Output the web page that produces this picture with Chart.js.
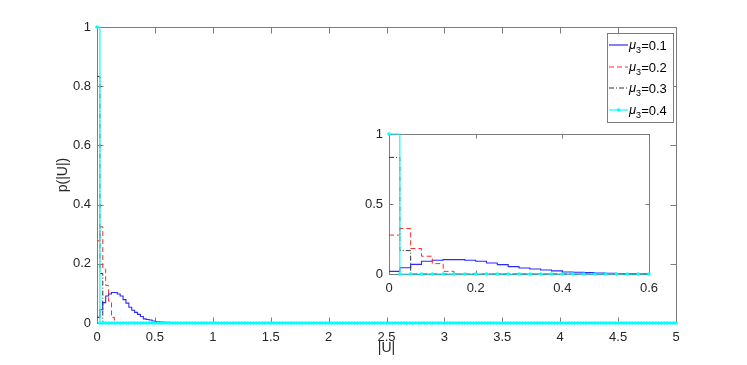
<!DOCTYPE html>
<html><head><meta charset="utf-8">
<script src="https://cdn.jsdelivr.net/npm/chart.js@4"></script>
<style>
html,body{margin:0;padding:0;background:#fff;}
#wrap{position:relative;width:747px;height:365px;overflow:hidden;}
#wrap canvas{position:absolute;left:0;top:0;}
</style></head><body>
<div id="wrap"><canvas id="main" width="747" height="365"></canvas><canvas id="inset" width="747" height="365"></canvas></div>
<script>
// ---- data (histogram bins of width 0.025, stairs start at bin left edge) ----
const binWidth = 0.025;
const mainXMax = 5;
const insetXMax = 0.6;
const mu01 = [0.019,0.045,0.069,0.091,0.098,0.103,0.103,0.098,0.091,0.079,0.067,0.053,0.043,0.036,0.029,0.022,0.014,0.012,0.010,0.007,0.005,0.004,0.003,0.002,0.002,0.001];
const mu02 = [0.278,0.325,0.182,0.127,0.074,0.019];
const mu03 = [0.833,0.167];
const mu04 = [1.0];
const seriesNames = ['0.1','0.2','0.3','0.4'];
const mainXTicks = [0,0.5,1,1.5,2,2.5,3,3.5,4,4.5,5];
const mainYTicks = [0,0.2,0.4,0.6,0.8,1];
const insetXTicks = [0,0.2,0.4,0.6];
const insetYTicks = [0,0.5,1];

const FONT = '"Liberation Sans", Arial, Helvetica, sans-serif';
const TXT = '#262626';
const FRAME = '#7d7d7d';

const styles = [
  {color:'#2a2aff', dash:[], width:1.1, marker:false},
  {color:'#ff2a2a', dash:[5,3], width:1, marker:false},
  {color:'#333333', dash:[5,2,1,2], width:1, marker:false},
  {color:'#00ffff', dash:[], width:1.2, marker:true}
];
const allSeries = [mu01, mu02, mu03, mu04];

function edgesUpTo(xmax){
  const n = Math.round(xmax / binWidth);
  const e = [];
  for (let i = 0; i <= n; i++) e.push(+(i * binWidth).toFixed(4));
  return e;
}
function points(vals, xmax){
  return edgesUpTo(xmax).map((x, i) => ({x: x, y: i < vals.length ? vals[i] : 0}));
}
function datasets(xmax){
  return allSeries.map((vals, k) => ({
    label: 'mu3=' + seriesNames[k],
    data: points(vals, xmax),
    stepped: 'before',
    borderColor: styles[k].color,
    borderDash: styles[k].dash,
    borderWidth: styles[k].width,
    pointRadius: styles[k].marker ? 1.8 : 0,
    pointBackgroundColor: styles[k].color,
    pointBorderColor: styles[k].color,
    pointBorderWidth: 0,
    fill: false,
    clip: false,
    order: 3 - k
  }));
}
const fmt = v => String(+(+v).toFixed(2));

const framePlugin = {
  id: 'frame',
  beforeDatasetsDraw(chart, args, o){
    const {ctx, chartArea: a, scales} = chart;
    ctx.save();
    if (o.bg){ ctx.fillStyle = '#fff'; ctx.fillRect(a.left, a.top, a.right - a.left, a.bottom - a.top); }
    ctx.strokeStyle = FRAME; ctx.lineWidth = 1;
    const L = Math.round(a.left) + 0.5, R = Math.round(a.right) + 0.5, T = Math.round(a.top) + 0.5, B = Math.round(a.bottom) + 0.5;
    ctx.strokeRect(L, T, R - L, B - T);
    const tl = o.tickLen;
    ctx.beginPath();
    scales.x.ticks.forEach(t => {
      const px = Math.round(scales.x.getPixelForValue(t.value)) + 0.5;
      ctx.moveTo(px, B); ctx.lineTo(px, B - tl);
      ctx.moveTo(px, T); ctx.lineTo(px, T + tl);
    });
    scales.y.ticks.forEach(t => {
      const py = Math.round(scales.y.getPixelForValue(t.value)) + 0.5;
      ctx.moveTo(L, py); ctx.lineTo(L + tl, py);
      ctx.moveTo(R, py); ctx.lineTo(R - tl, py);
    });
    ctx.stroke();
    ctx.restore();
  },
  afterDraw(chart, args, o){
    if (!o.legend) return;
    const ctx = chart.ctx;
    ctx.save();
    const x0 = 607, y0 = 33, w = 66, h = 89;
    ctx.fillStyle = '#fff'; ctx.fillRect(x0, y0, w, h);
    ctx.strokeStyle = FRAME; ctx.lineWidth = 1;
    ctx.strokeRect(x0 + 0.5, y0 + 0.5, w, h);
    for (let i = 0; i < 4; i++){
      const cy = Math.round(45 + i * 21.5);
      const s = styles[i];
      ctx.strokeStyle = s.color; ctx.lineWidth = 1.2; ctx.setLineDash(s.dash);
      ctx.beginPath(); ctx.moveTo(609, cy); ctx.lineTo(628, cy); ctx.stroke();
      ctx.setLineDash([]);
      if (s.marker){ ctx.fillStyle = s.color; ctx.beginPath(); ctx.arc(618.5, cy, 1.8, 0, Math.PI*2); ctx.fill(); }
      ctx.fillStyle = '#000';
      ctx.textBaseline = 'alphabetic'; ctx.textAlign = 'left';
      ctx.font = 'italic 13px ' + FONT;
      ctx.fillText('\u03bc', 629, cy + 3.5);
      let xx = 629 + ctx.measureText('\u03bc').width;
      ctx.font = '9px ' + FONT;
      ctx.fillText('3', xx, cy + 7.5);
      xx += ctx.measureText('3').width;
      ctx.font = '13px ' + FONT;
      ctx.fillText('=' + seriesNames[i], xx, cy + 5);
    }
    ctx.restore();
  }
};

function makeChart(id, cfg){
  return new Chart(document.getElementById(id), {
    type: 'line',
    data: {datasets: datasets(cfg.xmax)},
    plugins: [framePlugin],
    options: {
      responsive: false, animation: false, events: [],
      layout: {padding: cfg.padding},
      plugins: {legend: {display: false}, tooltip: {enabled: false},
        frame: {tickLen: cfg.tickLen, bg: cfg.bg, legend: cfg.legend}},
      scales: {
        x: {type: 'linear', min: 0, max: cfg.xmax,
          grid: {display: false, drawTicks: false}, border: {display: false},
          ticks: {color: TXT, font: {family: FONT, size: 13}, padding: cfg.xPad, maxRotation: 0, autoSkip: false, callback: fmt},
          afterBuildTicks: s => { s.ticks = cfg.xTicks.map(v => ({value: v})); },
          afterFit: s => { s.height = cfg.xH; },
          title: cfg.xTitle ? {display: true, text: '|U|', color: TXT, font: {family: FONT, size: 14}, padding: {top: 0, bottom: 8}} : {display: false}
        },
        y: {type: 'linear', min: 0, max: 1,
          grid: {display: false, drawTicks: false}, border: {display: false},
          ticks: {color: TXT, font: {family: FONT, size: 13}, padding: 6, autoSkip: false, callback: fmt},
          afterBuildTicks: s => { s.ticks = cfg.yTicks.map(v => ({value: v})); },
          afterFit: s => { s.width = cfg.yW; },
          title: cfg.yTitle ? {display: true, text: 'p(|U|)', color: TXT, font: {family: FONT, size: 14}, padding: {top: 55, bottom: 0}} : {display: false}
        }
      }
    }
  });
}

makeChart('main', {xmax: mainXMax, xTicks: mainXTicks, yTicks: mainYTicks,
  padding: {left: 0, top: 27, right: 71, bottom: 0}, xH: 42, yW: 97, xPad: 7,
  tickLen: 6, bg: false, legend: true, xTitle: true, yTitle: true});
makeChart('inset', {xmax: insetXMax, xTicks: insetXTicks, yTicks: insetYTicks,
  padding: {left: 359, top: 134, right: 98, bottom: 71}, xH: 20, yW: 30, xPad: 7,
  tickLen: 4, bg: true, legend: false, xTitle: false, yTitle: false});
</script>
</body></html>
